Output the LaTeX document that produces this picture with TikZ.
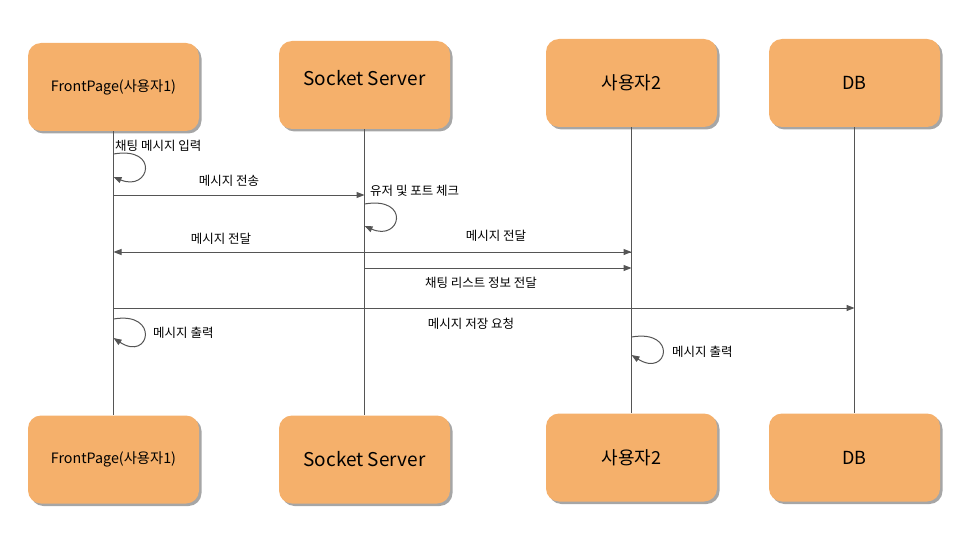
\documentclass[tikz,border=0pt]{standalone}
\usepackage{fontspec}
\setmainfont{Noto Sans CJK KR}
\usetikzlibrary{arrows.meta,shadows}
\definecolor{boxorange}{HTML}{F5B06B}
\definecolor{linegray}{HTML}{555555}
\tikzset{
  actor/.style={rounded corners=13pt, fill=boxorange, minimum width=171pt, minimum height=88pt,
    inner sep=0pt, drop shadow={shadow xshift=2.5pt, shadow yshift=-2.5pt, fill=black, opacity=0.35}},
  lifeline/.style={draw=linegray, line width=1pt},
  msg/.style={draw=linegray, line width=1pt, -{Triangle[length=8pt,width=6pt]}},
  lbl/.style={font=\fontsize{12.5}{14}\selectfont, inner sep=0pt, text=black},
}
\begin{document}
\begin{tikzpicture}[x=1pt,y=-1pt]
\useasboundingbox (0,0) rectangle (960,540);
% actors top
\node[actor, font=\fontsize{14.3}{16}\selectfont] (fpT) at (113.5,87) {FrontPage(사용자1)};
\node[actor, font=\fontsize{19}{22}\selectfont, text depth=14pt] (ssT) at (364.5,85) {Socket Server};
\node[actor, font=\fontsize{18}{22}\selectfont] (u2T) at (631.5,83) {사용자2};
\node[actor, font=\fontsize{18}{22}\selectfont] (dbT) at (854.5,83) {DB};
% actors bottom
\node[actor, font=\fontsize{14.3}{16}\selectfont] (fpB) at (113.5,459.5) {FrontPage(사용자1)};
\node[actor, font=\fontsize{19}{22}\selectfont] (ssB) at (364.5,459.5) {Socket Server};
\node[actor, font=\fontsize{18}{22}\selectfont] (u2B) at (631.5,457.5) {사용자2};
\node[actor, font=\fontsize{18}{22}\selectfont] (dbB) at (854.5,457.5) {DB};
% lifelines
\draw[lifeline] (fpT) -- (fpB);
\draw[lifeline] (ssT) -- (ssB);
\draw[lifeline] (u2T) -- (u2B);
\draw[lifeline] (dbT) -- (dbB);
% self loop 1
\draw[msg] (fpT.south |- 0,154) .. controls (160,146) and (150,192) .. (fpT.south |- 0,177);
\node[lbl, anchor=west] (l1) at (115,146) {채팅 메시지 입력};
% send
\draw[msg] (fpT.south |- 0,195) -- (ssT.south |- 0,195);
\node[lbl] (l2) at (229,181) {메시지 전송};
% socket check loop
\draw[msg] (ssT.south |- 0,204) .. controls (411,196) and (401,242) .. (ssT.south |- 0,226);
\node[lbl, anchor=west] (l3) at (370,191) {유저 및 포트 체크};
% deliver
\draw[msg] (u2T.south |- 0,252) -- (fpT.south |- 0,252);
\draw[msg] (ssT.south |- 0,252) -- (u2T.south |- 0,252);
\node[lbl] (l4) at (221,239) {메시지 전달};
\node[lbl] (l5) at (496,236) {메시지 전달};
% chat list
\draw[msg] (ssT.south |- 0,268) -- (u2T.south |- 0,268);
\node[lbl] (l6) at (481,283) {채팅 리스트 정보 전달};
% save
\draw[msg] (fpT.south |- 0,308) -- (dbT.south |- 0,308);
\node[lbl] (l7) at (471,324) {메시지 저장 요청};
% output loop fp
\draw[msg] (fpT.south |- 0,319) .. controls (160,311) and (150,362) .. (fpT.south |- 0,338);
\node[lbl, anchor=west] (l8) at (153,333) {메시지 출력};
% output loop u2
\draw[msg] (u2T.south |- 0,337) .. controls (678,329) and (668,378) .. (u2T.south |- 0,355);
\node[lbl, anchor=west] (l9) at (672,352) {메시지 출력};
\end{tikzpicture}
\end{document}
